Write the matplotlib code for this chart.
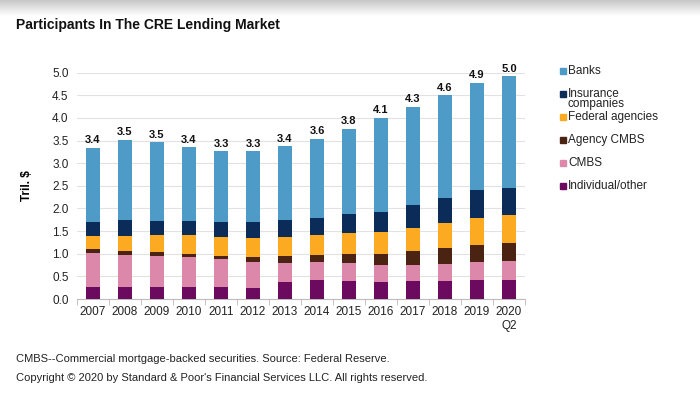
import numpy as np
import matplotlib
matplotlib.use("Agg")
import matplotlib.pyplot as plt

plt.rcParams['font.family'] = ['Liberation Sans', 'DejaVu Sans']

# Data (trillions of dollars)
years = ['2007', '2008', '2009', '2010', '2011', '2012', '2013',
         '2014', '2015', '2016', '2017', '2018', '2019', '2020\nQ2']
individual = [0.27, 0.26, 0.26, 0.26, 0.26, 0.24, 0.38, 0.41, 0.39, 0.38, 0.39, 0.39, 0.42, 0.43]
cmbs = [0.75, 0.71, 0.68, 0.67, 0.62, 0.58, 0.42, 0.40, 0.40, 0.37, 0.37, 0.39, 0.40, 0.41]
agency_cmbs = [0.09, 0.10, 0.10, 0.07, 0.08, 0.11, 0.15, 0.17, 0.21, 0.24, 0.29, 0.34, 0.38, 0.39]
federal = [0.28, 0.33, 0.37, 0.41, 0.42, 0.42, 0.41, 0.43, 0.45, 0.49, 0.52, 0.55, 0.59, 0.62]
insurance = [0.31, 0.34, 0.32, 0.31, 0.33, 0.35, 0.38, 0.39, 0.42, 0.45, 0.50, 0.56, 0.61, 0.61]
banks = [1.64, 1.77, 1.73, 1.63, 1.55, 1.56, 1.63, 1.74, 1.89, 2.07, 2.18, 2.27, 2.38, 2.46]
total_labels = ['3.4', '3.5', '3.5', '3.4', '3.3', '3.3', '3.4',
                '3.6', '3.8', '4.1', '4.3', '4.6', '4.9', '5.0']

series = [('Individual/other', individual, '#6b0a5f'),
          ('CMBS', cmbs, '#dc88aa'),
          ('Agency CMBS', agency_cmbs, '#4b2313'),
          ('Federal agencies', federal, '#fbaa22'),
          ('Insurance\ncompanies', insurance, '#0b2c59'),
          ('Banks', banks, '#4f9bc8')]

fig = plt.figure(figsize=(7.0, 4.07), dpi=100)

# gray gradient band at the very top
band = fig.add_axes([0, 1 - 16 / 407, 1, 16 / 407])
grad = np.linspace(0.78, 1.0, 50).reshape(-1, 1)
band.imshow(grad, aspect='auto', cmap='gray', vmin=0, vmax=1)
band.axis('off')

ax = fig.add_axes([77 / 700, 1 - 299 / 407, (525 - 77) / 700, (299 - 72.7) / 407])

x = np.arange(len(years))
bottom = np.zeros(len(years))
for name, vals, color in series:
    ax.bar(x, vals, width=0.45, bottom=bottom, color=color, zorder=3)
    bottom = bottom + np.array(vals)

for xi, top, lab in zip(x, bottom, total_labels):
    ax.text(xi, top + 0.06, lab, ha='center', va='bottom', fontsize=8,
            fontweight='bold', color='#111111')

ax.set_xlim(-0.5, len(years) - 0.5)
ax.set_ylim(0, 5.0)
ax.set_yticks(np.arange(0, 5.01, 0.5))
ax.set_yticklabels([f'{v:.1f}' for v in np.arange(0, 5.01, 0.5)], fontsize=8.5, color='#222222')
ax.set_xticks(x)
ax.set_xticklabels(years, fontsize=8.5, color='#222222')
ax.set_xticks(np.arange(-0.5, len(years), 1.0), minor=True)
ax.tick_params(axis='x', which='major', length=0, pad=5)
ax.tick_params(axis='x', which='minor', length=4, color='#bbbbbb', direction='out')
ax.tick_params(axis='y', length=0, pad=6)
ax.grid(axis='y', color='#e2e2e2', linewidth=0.8, zorder=0)
for s in ['top', 'right', 'left']:
    ax.spines[s].set_visible(False)
ax.spines['bottom'].set_color('#bbbbbb')
ax.set_ylabel('Tril. $', fontsize=8.5, fontweight='bold', labelpad=14)

# legend, drawn manually so that the two-line entry keeps even spacing
leg_y = [71, 94, 117, 140, 163, 186]
for (name, vals, color), yy in zip(series[::-1], leg_y):
    fig.patches.append(plt.Rectangle((560 / 700, 1 - (yy + 2.5) / 407), 6 / 700, 6 / 407,
                                     transform=fig.transFigure, color=color, figure=fig))
    if '\n' in name:
        first, second = name.split('\n')
        fig.text(568 / 700, 1 - yy / 407, first, fontsize=8.5, color='#222222',
                 va='center', ha='left')
        fig.text(568 / 700, 1 - (yy + 10.5) / 407, second, fontsize=8.5, color='#222222',
                 va='center', ha='left')
    else:
        fig.text(568 / 700, 1 - yy / 407, name, fontsize=8.5, color='#222222',
                 va='center', ha='left')

fig.text(16 / 700, 1 - 25 / 407, 'Participants In The CRE Lending Market',
         fontsize=10, fontweight='bold', va='center', ha='left', color='#111111')
fig.text(16 / 700, 1 - 359 / 407,
         'CMBS--Commercial mortgage-backed securities. Source: Federal Reserve.',
         fontsize=8, va='center', ha='left', color='#222222')
fig.text(16 / 700, 1 - 378 / 407,
         'Copyright \u00a9 2020 by Standard & Poor\'s Financial Services LLC. All rights reserved.',
         fontsize=8, va='center', ha='left', color='#222222')

fig.savefig('out.png', dpi=100)
